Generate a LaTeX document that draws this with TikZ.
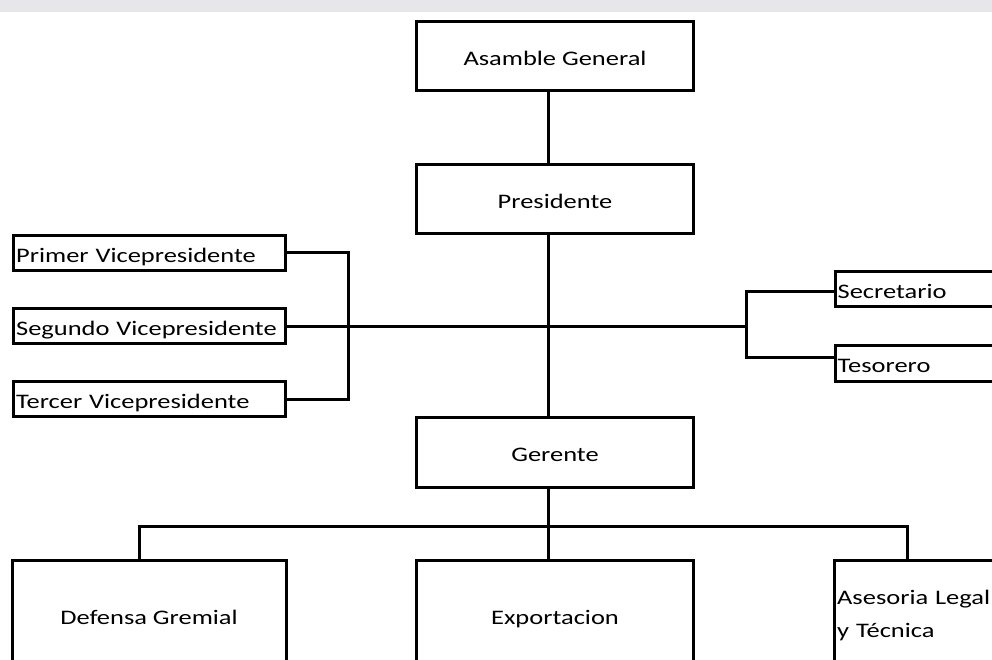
\documentclass[tikz,border=0pt]{standalone}
\usepackage{fontspec}
\setmainfont{Carlito}[FakeStretch=1.28]
\usetikzlibrary{calc}

\definecolor{haze}{RGB}{231,231,235}

\tikzset{
	frame/.style={draw, line width=2.25pt, inner sep=0pt, font=\fontsize{15.5}{25}\selectfont},
	box/.style={frame, text height=14pt, text depth=0pt},
	leftbox/.style={box, align=left, inner xsep=2pt},
	notebox/.style={frame, align=left, inner xsep=2pt},
	link/.style={line width=2.25pt},
}

\begin{document}
\begin{tikzpicture}[x=0.75pt, y=-0.75pt]
	\useasboundingbox (0,0) rectangle (992,660);
	\clip (0,0) rectangle (992,660);
	\fill[haze] (0,0) rectangle (992,12);
	
	\coordinate (spine) at (548.5, 0);
	\coordinate (lbar) at (348.5, 0);
	\coordinate (rbar) at (746.5, 0);
	\coordinate (ldrop) at (139, 526);
	\coordinate (rdrop) at (907, 526);
	
	% central column
	\node[box, minimum width=207.75pt, minimum height=51.75pt] (asamblea) at (555, 56) {Asamble General};
	\node[box, minimum width=207.75pt, minimum height=51.5pt] (presidente) at (555, 199.25) {Presidente};
	\node[box, minimum width=207.75pt, minimum height=52.5pt] (gerente) at (555, 452.25) {Gerente};
	
	% vicepresidents
	\node[leftbox, text width=200pt, minimum height=26.6pt] (primer) at (149.5, 252.75) {Primer Vicepresidente};
	\node[leftbox, text width=200pt, minimum height=26.6pt] (segundo) at (149.5, 326.25) {Segundo Vicepresidente};
	\node[leftbox, text width=200pt, minimum height=26.6pt] (tercer) at (149.5, 399) {Tercer Vicepresidente};
	
	% right side
	\node[leftbox, text width=200pt, minimum height=26.25pt, anchor=west] (secretario) at (833.5, 289) {Secretario};
	\node[leftbox, text width=200pt, minimum height=27pt, anchor=west] (tesorero) at (833.5, 363) {Tesorero};
	\coordinate (sjoin) at ([yshift=-2pt]secretario.west);
	\coordinate (tjoin) at ([yshift=4.5pt]tesorero.west);
	
	% bottom row
	\node[box, minimum width=205.5pt, minimum height=82.5pt, anchor=north] (defensa) at (149, 559) {Defensa Gremial};
	\node[box, minimum width=207.75pt, minimum height=82.5pt, anchor=north] (exportacion) at (555, 559) {Exportacion};
	\node[notebox, text width=200pt, minimum height=82.5pt, anchor=north west] (asesoria) at (833, 559) {Asesoria Legal\\y Técnica};
	
	\draw[link] (asamblea.south -| spine) -- (presidente.north -| spine);
	\draw[link] (presidente.south -| spine) -- (gerente.north -| spine);
	\draw[link] (segundo.east) -- (rbar |- segundo.east);
	\draw[link] (primer.east) -| (lbar |- tercer.east) -- (tercer.east);
	\draw[link] (sjoin) -| (rbar |- tjoin) -- (tjoin);
	\draw[link] (gerente.south -| spine) -- (exportacion.north -| spine);
	\draw[link] (defensa.north -| ldrop) -- (ldrop) -- (rdrop) -- (asesoria.north -| rdrop);
\end{tikzpicture}
\end{document}
